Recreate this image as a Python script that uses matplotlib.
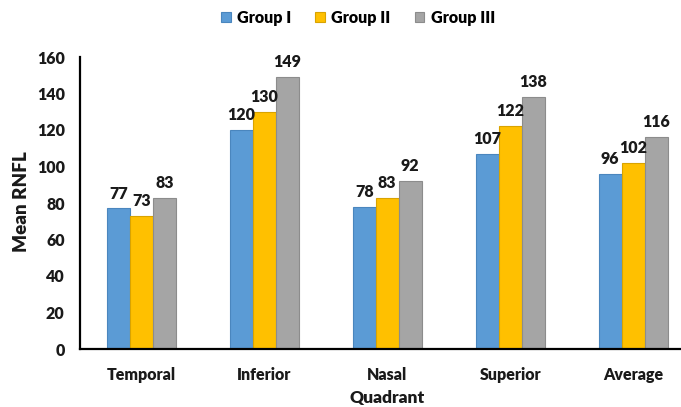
import matplotlib
matplotlib.use("Agg")
import matplotlib.pyplot as plt
import numpy as np

categories = ["Temporal", "Inferior", "Nasal", "Superior", "Average"]
series_names = ["Group I", "Group II", "Group III"]
group1 = [77, 120, 78, 107, 96]
group2 = [73, 130, 83, 122, 102]
group3 = [83, 149, 92, 138, 116]
yticks = [0, 20, 40, 60, 80, 100, 120, 140, 160]

colors = ["#5B9BD5", "#FFC000", "#A5A5A5"]
edges = ["#4A86BE", "#D9A300", "#8C8C8C"]

plt.rcParams['font.family'] = ['Lato', 'DejaVu Sans']
W = 'heavy'

fig = plt.figure(figsize=(6.81, 4.07), dpi=100)
ax = fig.add_axes([80/681, 1-349/407, (694.5-80)/681, (349-57)/407])

x = np.arange(len(categories))
w = 0.187
for i, (vals, name) in enumerate(zip([group1, group2, group3], series_names)):
    pos = x + (i-1)*w
    bars = ax.bar(pos, vals, width=w, color=colors[i], edgecolor=edges[i], linewidth=0.8, label=name)
    for b, v in zip(bars, vals):
        ax.annotate(str(v), (b.get_x()+b.get_width()/2, v), xytext=(0, 5), textcoords='offset points',
                    ha='center', va='bottom', fontsize=11.5, fontweight=W, color='#1a1a1a')

ax.set_xlim(-0.5, 4.5)
ax.set_ylim(0, 160)
ax.set_yticks(yticks)
ax.set_xticks(x)
ax.set_xticklabels(categories)
ax.tick_params(axis='both', length=0, labelsize=11.5, colors='#1a1a1a')
ax.tick_params(axis='y', pad=11)
ax.tick_params(axis='x', pad=13)
for lab in ax.get_xticklabels() + ax.get_yticklabels():
    lab.set_fontweight(W)
for s in ['top', 'right']:
    ax.spines[s].set_visible(False)
for s in ['left', 'bottom']:
    ax.spines[s].set_linewidth(1.6)
    ax.spines[s].set_color('black')

fig.text(22/681, 1-202/407, "Mean RNFL", ha='center', va='center', rotation=90,
         fontsize=13.5, fontweight=W, color='#1a1a1a')
fig.text(387/681, 1-398/407, "Quadrant", ha='center', va='center', fontsize=12.5, fontweight=W, color='#1a1a1a')

leg = fig.legend(loc='center', bbox_to_anchor=(358/681, 1-18/407), ncol=3, frameon=False,
                 fontsize=11.5, handlelength=0.6, handleheight=0.6, handletextpad=0.4, columnspacing=1.5)
for t in leg.get_texts():
    t.set_fontweight(W)

fig.savefig("out.png", dpi=100)
